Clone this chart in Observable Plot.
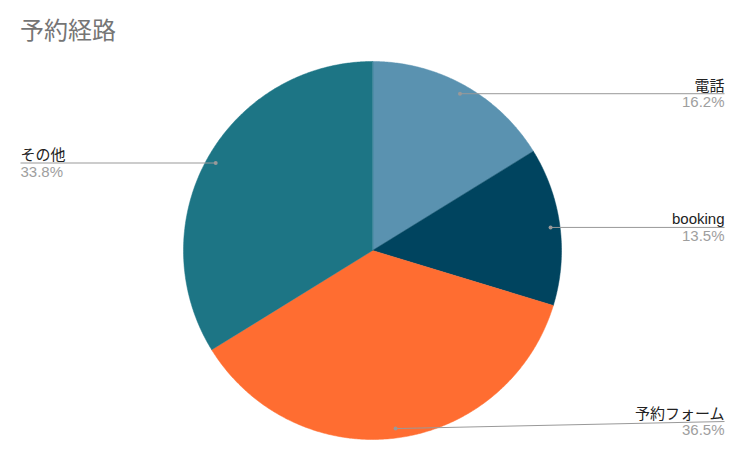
<!DOCTYPE html>
<html>
<head>
<meta charset="utf-8">
<script src="https://cdn.jsdelivr.net/npm/d3@7"></script>
<script src="https://cdn.jsdelivr.net/npm/@observablehq/plot@0.6"></script>
<style>
  html, body { margin: 0; padding: 0; background: #fff; }
  #title { font-family: Roboto, "Noto Sans CJK JP", sans-serif; font-size: 24px; color: #757575;
           height: 50px; box-sizing: border-box; padding: 18px 0 0 20px; line-height: 26px; }
  #chart svg { display: block; }
</style>
</head>
<body>
<div id="title">予約経路</div>
<div id="chart"></div>
<script>
const title = "予約経路";
const categories = ["電話", "booking", "予約フォーム", "その他"];
const shares = [16.2, 13.5, 36.5, 33.8];
const colors = ["#5a92b0", "#00445f", "#ff6d31", "#1d7585"];

const W = 741, H = 404, R = 189, CX = 372, CY = 200;
const total = d3.sum(shares);

// slice polygons from cumulative shares (clockwise from 12 o'clock)
const slicePts = [];
const labels = [];
let acc = 0;
categories.forEach((c, i) => {
  const a0 = acc / total * 2 * Math.PI;
  acc += shares[i];
  const a1 = acc / total * 2 * Math.PI;
  slicePts.push({name: c, x: 0, y: 0});
  const n = Math.max(2, Math.ceil((a1 - a0) / (Math.PI / 360)));
  for (let k = 0; k <= n; k++) {
    const a = a0 + (a1 - a0) * k / n;
    slicePts.push({name: c, x: Math.sin(a), y: Math.cos(a)});
  }
  const am = (a0 + a1) / 2;
  const dx = 0.95 * Math.sin(am), dy = 0.95 * Math.cos(am);
  const right = Math.sin(am) >= 0;
  const ly = Math.max(dy, -(H - CY - 33) / R);
  labels.push({
    name: c, pct: shares[i].toFixed(1) + "%",
    dx, dy, ly, right,
    lx: right ? (724 - CX) / R : (20 - CX) / R
  });
});

const font = '"Liberation Sans", Arial, "Noto Sans CJK JP", sans-serif';
const chart = Plot.plot({
  width: W, height: H, margin: 0,
  x: {domain: [-CX / R, (W - CX) / R], range: [0, W], axis: null},
  y: {domain: [-(H - CY) / R, CY / R], range: [H, 0], axis: null},
  color: {domain: categories, range: colors},
  style: {fontFamily: font, background: "#fff"},
  marks: [
    Plot.line(slicePts, {x: "x", y: "y", z: "name", fill: "name", stroke: "name", strokeWidth: 0.5, curve: "linear-closed"}),
    Plot.link(labels, {x1: "dx", y1: "dy", x2: "lx", y2: "ly", stroke: "#999", strokeWidth: 1}),
    Plot.dot(labels, {x: "dx", y: "dy", r: 2, fill: "#999", stroke: null}),
    Plot.text(labels.filter(d => d.right), {x: "lx", y: "ly", text: "name", textAnchor: "end", lineAnchor: "bottom", dy: -3, fontSize: 15, fill: "#222"}),
    Plot.text(labels.filter(d => d.right), {x: "lx", y: "ly", text: "pct", textAnchor: "end", lineAnchor: "top", dy: 3, fontSize: 15, fill: "#9e9e9e"}),
    Plot.text(labels.filter(d => !d.right), {x: "lx", y: "ly", text: "name", textAnchor: "start", lineAnchor: "bottom", dy: -3, fontSize: 15, fill: "#222"}),
    Plot.text(labels.filter(d => !d.right), {x: "lx", y: "ly", text: "pct", textAnchor: "start", lineAnchor: "top", dy: 3, fontSize: 15, fill: "#9e9e9e"})
  ]
});
document.getElementById("chart").appendChild(chart);
</script>
</body>
</html>
